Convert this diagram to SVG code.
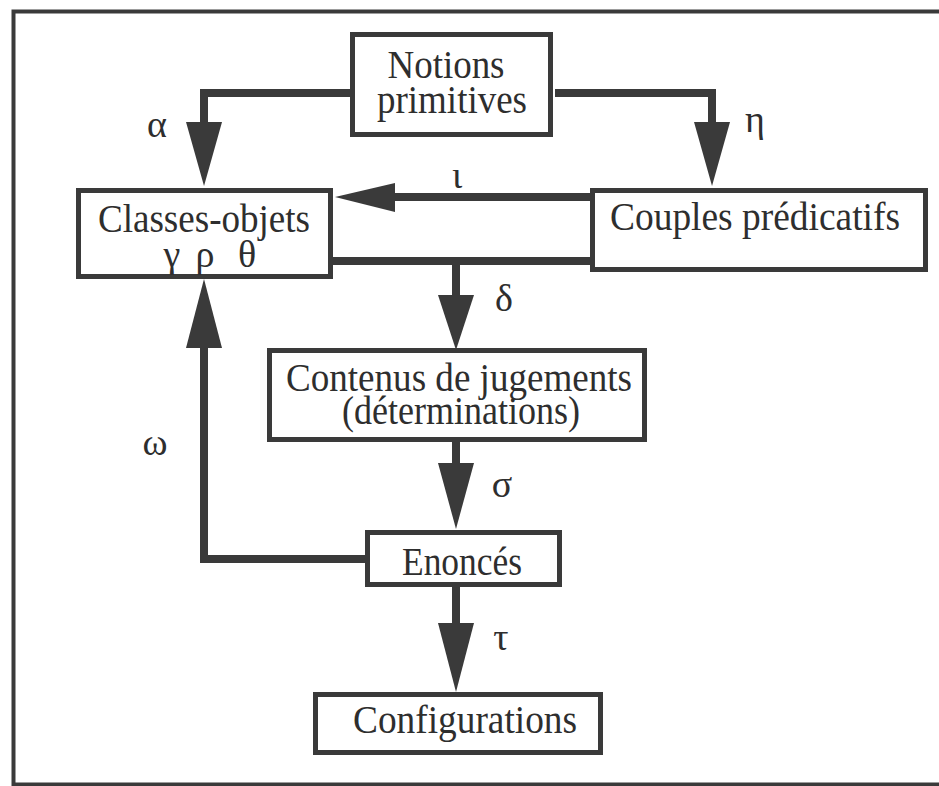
<svg xmlns="http://www.w3.org/2000/svg" width="939" height="786" viewBox="0 0 939 786">
<style>
  .box { fill: #ffffff; stroke: #3a3a3a; stroke-width: 5; }
  .lbl { font-family: "Liberation Serif", "Times New Roman", serif; font-size: 40px; fill: #2e2e2e; text-anchor: middle; }
  .gk { font-family: "Liberation Serif", "Times New Roman", serif; font-size: 38px; fill: #2e2e2e; text-anchor: middle; }
  .conn { fill: none; stroke: #3a3a3a; stroke-width: 8; stroke-linejoin: miter; }
  .head { fill: #3a3a3a; stroke: none; }
  .frame { fill: none; stroke: #3a3a3a; stroke-width: 4; }
</style>
<rect x="0" y="0" width="939" height="786" fill="#ffffff"/>
<path class="frame" d="M939,11.5 H13.5 V784.5 H939"/>

<g id="connectors">
  <path class="conn" d="M350,93 H204 V126"/>
  <polygon class="head" points="186,122 222,122 204,186"/>
  <path class="conn" d="M555,93 H712 V126"/>
  <polygon class="head" points="694,122 730,122 712,186"/>
  <path class="conn" d="M590,197 H390"/>
  <polygon class="head" points="395,183 395,212 335,197"/>
  <path class="conn" d="M333,261 H590"/>
  <path class="conn" d="M456,261 V300"/>
  <polygon class="head" points="438,295 474,295 456,350"/>
  <path class="conn" d="M456,442 V468"/>
  <polygon class="head" points="438,463 474,463 456,529"/>
  <path class="conn" d="M456,587 V628"/>
  <polygon class="head" points="438,623 474,623 456,692"/>
  <path class="conn" d="M365,559 H204 V343"/>
  <polygon class="head" points="186,348 222,348 204,279"/>
  <text class="gk" x="157" y="137">α</text>
  <text class="gk" x="755" y="132">η</text>
  <text class="gk" x="457" y="188">ι</text>
  <text class="gk" x="504" y="311">δ</text>
  <text class="gk" x="502" y="497">σ</text>
  <text class="gk" x="501" y="650">τ</text>
  <text class="gk" x="155" y="455">ω</text>
</g>

<g id="notions">
  <rect class="box" x="352.5" y="34.5" width="198" height="100"/>
  <text class="lbl" x="446" y="78" textLength="117" lengthAdjust="spacingAndGlyphs">Notions</text>
  <text class="lbl" x="452" y="113" textLength="150" lengthAdjust="spacingAndGlyphs">primitives</text>
</g>

<g id="classes">
  <rect class="box" x="78.5" y="190.5" width="252" height="86"/>
  <text class="lbl" x="204" y="232" textLength="212" lengthAdjust="spacingAndGlyphs">Classes-objets</text>
  <text class="gk" y="267"><tspan x="172">γ</tspan><tspan x="205">ρ</tspan><tspan x="247">θ</tspan></text>
</g>

<g id="couples">
  <rect class="box" x="592.5" y="190.5" width="333" height="79"/>
  <text class="lbl" x="755" y="230" textLength="290" lengthAdjust="spacingAndGlyphs">Couples prédicatifs</text>
</g>

<g id="contenus">
  <rect class="box" x="269.5" y="350.5" width="375" height="89"/>
  <text class="lbl" x="459" y="391" textLength="346" lengthAdjust="spacingAndGlyphs">Contenus de jugements</text>
  <text class="lbl" x="461" y="424" textLength="238" lengthAdjust="spacingAndGlyphs">(déterminations)</text>
</g>

<g id="enonces">
  <rect class="box" x="367.5" y="532.5" width="192" height="52"/>
  <text class="lbl" x="462" y="575" textLength="120" lengthAdjust="spacingAndGlyphs">Enoncés</text>
</g>

<g id="configurations">
  <rect class="box" x="315.5" y="694.5" width="285" height="58"/>
  <text class="lbl" x="465" y="733" textLength="224" lengthAdjust="spacingAndGlyphs">Configurations</text>
</g>
</svg>
